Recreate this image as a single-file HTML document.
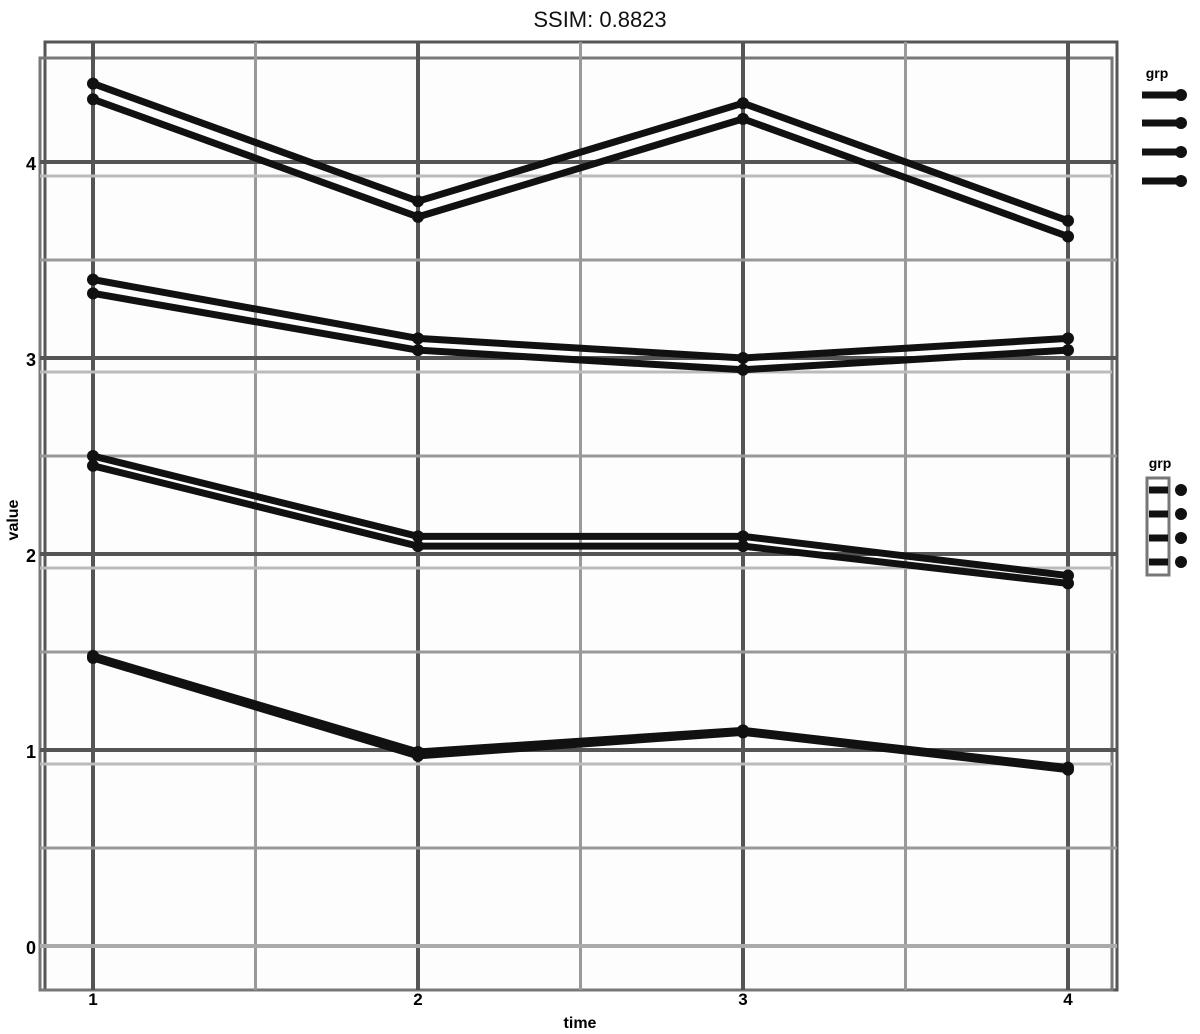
<!DOCTYPE html>
<html><head><meta charset="utf-8"><style>
html,body{margin:0;padding:0;background:#fff;width:1200px;height:1034px;overflow:hidden}
svg{display:block}
text{font-family:"Liberation Sans",sans-serif}
</style></head><body>
<svg id="chart" width="1200" height="1034">
<text x="600" y="27" text-anchor="middle" font-size="22" fill="#111">SSIM: 0.8823</text>
<g id="grid"></g><g id="marks"></g><g id="labels"></g>
</svg>
<script>
const categories=["1","2","3","4"];
const seriesA1=[4.40,3.80,4.30,3.70];
const seriesB1=[4.32,3.72,4.22,3.62];
const seriesA2=[3.40,3.10,3.00,3.10];
const seriesB2=[3.33,3.04,2.94,3.04];
const seriesA3=[2.50,2.09,2.09,1.89];
const seriesB3=[2.45,2.04,2.04,1.85];
const seriesA4=[1.48,0.99,1.10,0.91];
const seriesB4=[1.47,0.97,1.09,0.90];
const yTicks=[0,1,2,3,4];
const NS="http://www.w3.org/2000/svg";
const xS=i=>93+i*325, yS=v=>946-v*196;
function mk(tag,attrs,parent){const e=document.createElementNS(NS,tag);for(const k in attrs)e.setAttribute(k,attrs[k]);document.getElementById(parent).appendChild(e);return e;}
mk('rect',{x:45,y:42,width:1072,height:948,fill:'#fdfdfd',stroke:'#555','stroke-width':3},'grid');
mk('rect',{x:40,y:58,width:1072,height:932,fill:'none',stroke:'#777','stroke-width':3},'grid');
for(let i=0;i<categories.length-1;i++){
  const l=mk('line',{x1:xS(i+0.5),x2:xS(i+0.5),y1:42,y2:990,stroke:'#999','stroke-width':3},'grid');
  
  
}
categories.forEach((c,i)=>{
  const l=mk('line',{x1:xS(i),x2:xS(i),y1:42,y2:990,stroke:'#555','stroke-width':4},'grid');
  
  
  const t=mk('text',{x:xS(i),y:1005,'text-anchor':'middle','font-size':17,'font-weight':'bold',fill:'#000'},'labels');
  t.textContent=c;
  
  
});
yTicks.forEach((v,i)=>{
  const l=mk('line',{x1:40,x2:1117,y1:yS(v),y2:yS(v),stroke:v===0?'#aaa':'#555','stroke-width':4},'grid');
  
  
  if(v>0){const l2=mk('line',{x1:40,x2:1112,y1:yS(v)+14,y2:yS(v)+14,stroke:'#bbb','stroke-width':3},'grid');
  
  }
  if(i<yTicks.length-1){const m=mk('line',{x1:40,x2:1117,y1:yS(v+0.5),y2:yS(v+0.5),stroke:'#999','stroke-width':3},'grid');
  
  }
  const t=mk('text',{x:36,y:yS(v)+8,'text-anchor':'end','font-size':18,'font-weight':'bold',fill:'#000'},'labels');
  t.textContent=String(v);
  
  
});
const yt=mk('text',{x:18,y:520,'text-anchor':'middle','font-size':16,'font-weight':'bold',fill:'#000',transform:'rotate(-90 18 520)'},'labels');
yt.textContent='value';


const xt=mk('text',{x:580,y:1028,'text-anchor':'middle','font-size':16,'font-weight':'bold',fill:'#000'},'labels');
xt.textContent='time';


[seriesA1,seriesB1,seriesA2,seriesB2,seriesA3,seriesB3,seriesA4,seriesB4].forEach((s,k)=>{
  const p=mk('polyline',{points:s.map((v,i)=>xS(i)+','+yS(v)).join(' '),fill:'none',stroke:'#111','stroke-width':7,'stroke-linejoin':'round'},'marks');
  
  
  s.forEach((v,i)=>{const c=mk('circle',{cx:xS(i),cy:yS(v),r:6,fill:'#111'},'marks');
  
  });
});
const lg1=mk('text',{x:1157,y:78,'text-anchor':'middle','font-size':14,'font-weight':'bold',fill:'#000'},'labels');
lg1.textContent='grp';


[95,123,152,181].forEach(y=>{
  const l=mk('line',{x1:1142,x2:1178,y1:y,y2:y,stroke:'#111','stroke-width':7},'labels');
  
  
  mk('circle',{cx:1181,cy:y,r:6,fill:'#111'},'labels');
});
const lg2=mk('text',{x:1160,y:468,'text-anchor':'middle','font-size':14,'font-weight':'bold',fill:'#000'},'labels');
lg2.textContent='grp';


mk('rect',{x:1147,y:478,width:22,height:97,fill:'none',stroke:'#777','stroke-width':3},'labels');
[490,514,538,562].forEach(y=>{
  const l=mk('line',{x1:1149,x2:1168,y1:y,y2:y,stroke:'#111','stroke-width':7},'labels');
  
  
  mk('circle',{cx:1181,cy:y,r:6,fill:'#111'},'labels');
});
</script>
</body></html>
